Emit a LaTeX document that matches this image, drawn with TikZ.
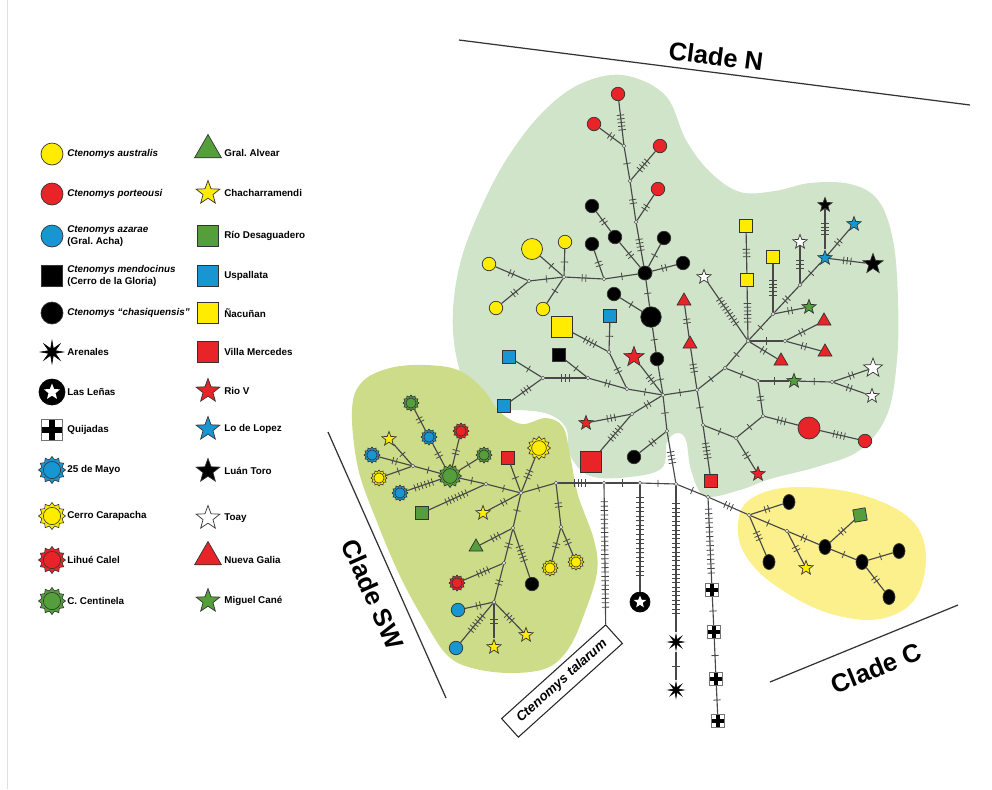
\documentclass[tikz,border=0pt]{standalone}
\usepackage{fontspec}
\setmainfont{Liberation Sans}
\usetikzlibrary{positioning,shapes.geometric,decorations.markings}

\definecolor{cRed}{RGB}{232,36,40}
\definecolor{cYel}{RGB}{255,236,0}
\definecolor{cBlu}{RGB}{24,150,210}
\definecolor{cGrn}{RGB}{84,158,60}
\definecolor{zoneN}{RGB}{207,228,201}
\definecolor{zoneSW}{RGB}{205,220,136}
\definecolor{zoneC}{RGB}{251,240,140}
\definecolor{lnk}{RGB}{72,72,72}

\tikzset{
  edge/.style={draw=lnk,line width=0.65pt},
  tick/.style={draw=lnk,line width=0.45pt},
  mut/.style={postaction={decorate,decoration={markings,mark=at position 0.5 with {\foreach \k in {1,...,#1} {\draw[tick] ({(\k-(#1+1)/2)*2.1pt},-2.1pt) -- ({(\k-(#1+1)/2)*2.1pt},2.1pt);}}}}},
  chain/.style={postaction={decorate,decoration={markings,mark=between positions 0.12 and 0.88 step #1 with {\draw[tick] (0pt,-2.1pt) -- (0pt,2.1pt);}}}},
  mv/.style={circle,draw=lnk,fill=white,line width=0.35pt,inner sep=0pt,minimum size=0.07cm},
  sp/.style={circle,draw=black!80,line width=0.4pt,fill=#1,inner sep=0pt,minimum size=0.27cm},
  ell/.style={ellipse,draw=black!80,line width=0.4pt,fill=#1,inner sep=0pt,minimum width=0.24cm,minimum height=0.3cm},
  sq/.style={rectangle,draw=black!80,line width=0.4pt,fill=#1,inner sep=0pt,minimum size=0.25cm},
  st/.style={star,star points=5,star point ratio=2.4,draw=black!80,line width=0.4pt,fill=#1,inner sep=0pt,minimum size=0.3cm},
  tri/.style={regular polygon,regular polygon sides=3,draw=black!80,line width=0.4pt,fill=#1,inner sep=0pt,minimum size=0.32cm},
  sun/.style 2 args={star,star points=12,star point ratio=1.3,draw=black!80,line width=0.35pt,fill=#1,inner sep=0pt,minimum size=#2,path picture={\draw[fill=#1,line width=0.35pt] (path picture bounding box.center) circle (0.32*#2);}},
  lenas/.style 2 args={circle,fill=black,draw=black,inner sep=0pt,minimum size=#1,path picture={\node[star,star points=5,star point ratio=2.3,fill=white,inner sep=0pt,minimum size=#2] at (path picture bounding box.center) {};}},
  quij/.style 2 args={rectangle,draw=black!55,fill=white,line width=0.4pt,inner sep=0pt,minimum size=#1,path picture={\draw[black,line width=#2] (path picture bounding box.north) -- (path picture bounding box.south) (path picture bounding box.west) -- (path picture bounding box.east);}},
  aren/.style={star,star points=8,star point ratio=3.2,fill=black,draw=black,line width=0.3pt,inner sep=0pt,minimum size=#1},
  key/.style={anchor=west,font=\fontsize{5.6}{6.4}\selectfont\bfseries\frenchspacing,inner sep=0pt,align=left},
  keyit/.style={key,font=\fontsize{5.6}{6.4}\selectfont\bfseries\itshape},
  clade/.style={font=\fontsize{14.5}{16}\selectfont\bfseries,inner sep=0pt},
  cline/.style={draw=black!80,line width=0.7pt},
  talbox/.style={draw=black!85,line width=0.6pt,fill=white,rotate=42,minimum width=2.8cm,minimum height=0.5cm,inner sep=1pt,font=\fontsize{7.6}{8}\selectfont\bfseries\itshape}
}
\newcommand{\mlink}[3]{\draw[edge,mut=#3] (#1) -- (#2);}

\begin{document}
\begin{tikzpicture}[x=0.02cm,y=-0.02cm]
  \useasboundingbox (0,0) rectangle (992,789);
  \draw[black!12] (7,0) -- (7,789);

  \fill[zoneN] plot[smooth cycle,tension=0.6] coordinates {(622,75) (665,95) (686,140) (710,172) (740,192) (775,191) (810,183) (850,184) (878,200) (893,240) (898,300) (897,360) (887,415) (860,450) (820,466) (770,479) (740,490) (705,496) (691,470) (686,440) (677,433) (667,442) (662,468) (630,477) (590,476) (570,455) (566,428) (548,414) (515,410) (490,414) (470,398) (456,355) (453,310) (461,260) (480,210) (506,160) (540,115) (578,85)};
  \fill[zoneSW] plot[smooth cycle,tension=0.6] coordinates {(352,410) (362,382) (390,368) (425,365) (458,370) (482,388) (500,412) (522,424) (546,418) (563,427) (570,455) (578,495) (594,540) (597,572) (585,612) (569,648) (547,668) (510,673) (472,668) (447,655) (425,622) (400,576) (377,522) (358,468)};
  \fill[zoneC] plot[smooth cycle,tension=0.6] coordinates {(742,508) (765,492) (800,487) (850,492) (893,507) (918,528) (926,558) (919,592) (900,612) (868,620) (825,612) (785,592) (755,568) (739,540)};

  \draw[cline] (459,40) -- (970,105);
  \node[clade,rotate=-7.2] (cN) at (716,56) {Clade N};
  \draw[cline] (328,432) -- (446,698);
  \node[clade,rotate=-66] (cSW) at (373,594) {Clade SW};
  \draw[cline] (770,682) -- (958,605);
  \node[clade,rotate=22] (cC) at (876,668) {Clade C};

  \node[sp=cYel,minimum size=0.44cm] (k1) at (52,154) {};
  \node[keyit] (k1t) at (67,154) {Ctenomys australis};
  \node[sp=cRed,minimum size=0.44cm] (k2) at (52,194) {};
  \node[keyit] (k2t) at (67,194) {Ctenomys porteousi};
  \node[sp=cBlu,minimum size=0.44cm] (k3) at (52,236) {};
  \node[key] (k3t) at (67,236) {{\itshape Ctenomys azarae}\\(Gral. Acha)};
  \node[sq=black,minimum size=0.42cm] (k4) at (52,276) {};
  \node[key] (k4t) at (67,276) {{\itshape Ctenomys mendocinus}\\(Cerro de la Gloria)};
  \node[sp=black,minimum size=0.44cm] (k5) at (52,313) {};
  \node[keyit] (k5t) at (67,313) {Ctenomys “chasiquensis”};
  \node[aren=0.46cm] (k6) at (52,352) {};
  \node[key] (k6t) at (67,352) {Arenales};
  \node[lenas={0.52cm}{0.34cm}] (k7) at (52,392) {};
  \node[key] (k7t) at (67,392) {Las Leñas};
  \node[quij={0.42cm}{3.4pt}] (k8) at (52,430) {};
  \node[key] (k8t) at (67,430) {Quijadas};
  \node[sun={cBlu}{0.54cm}] (k9) at (52,470) {};
  \node[key] (k9t) at (67,470) {25 de Mayo};
  \node[sun={cYel}{0.54cm}] (k10) at (52,516) {};
  \node[key] (k10t) at (67,516) {Cerro Carapacha};
  \node[sun={cRed}{0.54cm}] (k11) at (52,560) {};
  \node[key] (k11t) at (67,560) {Lihué Calel};
  \node[sun={cGrn}{0.54cm}] (k12) at (52,601) {};
  \node[key] (k12t) at (67,601) {C. Centinela};

  \node[tri=cGrn,minimum size=0.62cm] (r1) at (208,150) {};
  \node[key] (r1t) at (224,153) {Gral. Alvear};
  \node[st=cYel,minimum size=0.5cm] (r2) at (208,193) {};
  \node[key] (r2t) at (224,193) {Chacharramendi};
  \node[sq=cGrn,minimum size=0.42cm] (r3) at (208,236) {};
  \node[key] (r3t) at (224,236) {Río Desaguadero};
  \node[sq=cBlu,minimum size=0.42cm] (r4) at (208,276) {};
  \node[key] (r4t) at (224,276) {Uspallata};
  \node[sq=cYel,minimum size=0.42cm] (r5) at (208,313) {};
  \node[key] (r5t) at (224,313) {Ñacuñan};
  \node[sq=cRed,minimum size=0.42cm] (r6) at (208,352) {};
  \node[key] (r6t) at (224,352) {Villa Mercedes};
  \node[st=cRed,minimum size=0.5cm] (r7) at (208,391) {};
  \node[key] (r7t) at (224,391) {Rio V};
  \node[st=cBlu,minimum size=0.5cm] (r8) at (208,429) {};
  \node[key] (r8t) at (224,429) {Lo de Lopez};
  \node[st=black,minimum size=0.5cm] (r9) at (208,471) {};
  \node[key] (r9t) at (224,471) {Luán Toro};
  \node[st=white,minimum size=0.5cm] (r10) at (208,518) {};
  \node[key] (r10t) at (224,518) {Toay};
  \node[tri=cRed,minimum size=0.62cm] (r11) at (208,557) {};
  \node[key] (r11t) at (224,560) {Nueva Galia};
  \node[st=cGrn,minimum size=0.5cm] (r12) at (208,601) {};
  \node[key] (r12t) at (224,601) {Miguel Cané};

  \node[sp=cRed] (n1) at (618,94) {};
  \node[sp=cRed] (n2) at (594,124) {};
  \node[mv] (m1) at (624,146) {};
  \node[sp=cRed] (n3) at (660,146) {};
  \node[mv] (m2) at (630,181) {};
  \node[sp=cRed] (n4) at (658,189) {};
  \node[mv] (m3) at (636,222) {};
  \node[sp=black,minimum size=0.28cm] (h1) at (645,273) {};
  \node[sp=black] (b1) at (592,206) {};
  \node[sp=black] (b2) at (615,237) {};
  \node[sp=black] (b3) at (664,238) {};
  \node[sp=black] (b4) at (683,263) {};
  \node[mv] (m4) at (604,279) {};
  \node[sp=black] (b5) at (592,244) {};
  \node[mv] (m5) at (564,277) {};
  \node[sp=cYel] (y1) at (565,242) {};
  \node[sp=cYel,minimum size=0.42cm] (y2) at (532,249) {};
  \node[mv] (m6) at (529,281) {};
  \node[sp=cYel] (y3) at (489,264) {};
  \node[sp=cYel] (y4) at (496,308) {};
  \node[sp=cYel] (y5) at (543,309) {};
  \node[sp=black] (b6) at (614,294) {};
  \node[sp=black,minimum size=0.41cm] (b7) at (651,317) {};
  \node[sp=black] (b8) at (657,359) {};
  \node[mv] (c0) at (663,395) {};
  \node[sq=cYel,minimum size=0.41cm] (s1) at (562,327) {};
  \node[sq=cBlu] (s2) at (610,316) {};
  \node[mv] (m7) at (609,352) {};
  \node[mv] (m8) at (627,389) {};
  \node[sq=black] (s3) at (559,355) {};
  \node[mv] (m9) at (588,378) {};
  \node[sq=cBlu] (s4) at (509,357) {};
  \node[mv] (m10) at (543,378) {};
  \node[sq=cBlu] (s5) at (504,406) {};
  \node[st=cRed,minimum size=0.42cm] (t0) at (634,357) {};
  \node[mv] (m11) at (667,431) {};
  \node[sp=black] (b9) at (634,457) {};
  \node[mv] (m12) at (632,414) {};
  \node[st=cRed] (r0) at (586,423) {};
  \node[sq=cRed,minimum size=0.42cm] (s6) at (591,462) {};
  \node[mv] (m13) at (697,390) {};
  \node[tri=cRed] (t1) at (690,344) {};
  \node[tri=cRed] (t2) at (684,301) {};
  \node[mv] (m14) at (703,425) {};
  \node[sq=cRed] (s7) at (711,481) {};
  \node[mv] (m15) at (736,438) {};
  \node[st=cRed] (r3s) at (758,474) {};
  \node[mv] (m16) at (763,416) {};
  \node[sp=cRed,minimum size=0.44cm] (c1) at (809,428) {};
  \node[sp=cRed] (c2) at (865,441) {};
  \node[mv] (m17) at (725,368) {};
  \node[mv] (m18) at (758,381) {};
  \node[st=cGrn] (g1) at (794,381) {};
  \node[mv] (m19) at (832,382) {};
  \node[st=white,minimum size=0.4cm] (w1) at (873,368) {};
  \node[st=white] (w2) at (872,396) {};
  \node[mv] (h2) at (748,341) {};
  \node[st=white] (w3) at (704,277) {};
  \node[sq=cYel] (s8) at (747,280) {};
  \node[sq=cYel] (s9) at (746,226) {};
  \node[tri=cRed] (t3) at (781,361) {};
  \node[mv] (m20) at (785,341) {};
  \node[tri=cRed] (t4) at (824,321) {};
  \node[tri=cRed] (t5) at (825,352) {};
  \node[mv] (m21) at (773,314) {};
  \node[sq=cYel] (s10) at (773,257) {};
  \node[st=cGrn] (g2) at (809,307) {};
  \node[mv] (m22) at (800,285) {};
  \node[st=white] (w4) at (800,242) {};
  \node[st=cBlu] (u1) at (825,258) {};
  \node[st=black] (x1) at (825,205) {};
  \node[st=cBlu] (u2) at (854,224) {};
  \node[st=black,minimum size=0.42cm] (x2) at (873,264) {};

  \node[mv] (jn) at (676,484) {};
  \node[mv] (j1) at (604,483) {};
  \node[mv] (j2) at (640,483) {};
  \node[mv] (j0) at (556,483) {};
  \node[mv] (m23) at (708,497) {};
  \node[lenas={0.4cm}{0.26cm}] (ly) at (640,602) {};
  \node[aren=0.32cm] (a1) at (676,642) {};
  \node[aren=0.32cm] (a2) at (676,690) {};
  \node[quij={0.26cm}{1.9pt}] (q1) at (712,590) {};
  \node[quij={0.26cm}{1.9pt}] (q2) at (714,632) {};
  \node[quij={0.26cm}{1.9pt}] (q3) at (716,679) {};
  \node[quij={0.26cm}{1.9pt}] (q4) at (718,721) {};
  \node[talbox] (tal) at (562,681) {Ctenomys talarum};

  \node[mv] (yc) at (749,515) {};
  \node[ell=black] (e1) at (789,502) {};
  \node[ell=black] (e2) at (769,562) {};
  \node[mv] (m24) at (787,531) {};
  \node[st=cYel] (e3) at (806,568) {};
  \node[ell=black] (e4) at (825,547) {};
  \node[sq=cGrn,rotate=10] (e5) at (860,515) {};
  \node[ell=black] (e6) at (862,562) {};
  \node[ell=black] (e7) at (899,551) {};
  \node[ell=black] (e8) at (889,597) {};

  \node[mv] (w0) at (521,493) {};
  \node[sq=cRed] (d1) at (508,458) {};
  \node[sun={cYel}{0.46cm}] (d2) at (539,448) {};
  \node[mv] (m25) at (486,484) {};
  \node[st=cYel] (d3) at (483,513) {};
  \node[mv] (m26) at (513,528) {};
  \node[sq=cGrn] (d4) at (422,513) {};
  \node[sun={cGrn}{0.46cm}] (gs) at (450,476) {};
  \node[mv] (m27) at (413,466) {};
  \node[sun={cBlu}{0.32cm}] (d5) at (372,455) {};
  \node[sun={cYel}{0.32cm}] (d6) at (379,478) {};
  \node[st=cYel] (d7) at (389,439) {};
  \node[sun={cBlu}{0.32cm}] (d8) at (400,493) {};
  \node[sun={cBlu}{0.32cm}] (d9) at (429,437) {};
  \node[sun={cGrn}{0.32cm}] (d10) at (411,403) {};
  \node[sun={cRed}{0.32cm}] (d11) at (461,431) {};
  \node[sun={cGrn}{0.32cm}] (d12) at (484,455) {};
  \node[mv] (m28) at (561,527) {};
  \node[sun={cYel}{0.32cm}] (d13) at (550,568) {};
  \node[sun={cYel}{0.32cm}] (d14) at (576,562) {};
  \node[tri=cGrn] (d15) at (476,547) {};
  \node[mv] (m29) at (504,563) {};
  \node[sp=black] (d16) at (532,584) {};
  \node[sun={cRed}{0.32cm}] (d17) at (457,583) {};
  \node[mv] (m30) at (494,602) {};
  \node[sp=cBlu] (d18) at (458,610) {};
  \node[sp=cBlu] (d19) at (456,648) {};
  \node[st=cYel] (d20) at (494,647) {};
  \node[st=cYel] (d21) at (526,635) {};

  \mlink{n1}{m1}{5} \mlink{n2}{m1}{2} \mlink{m1}{m2}{1} \mlink{m2}{n3}{4}
  \mlink{m2}{m3}{2} \mlink{m3}{n4}{2} \mlink{m3}{h1}{4}
  \mlink{h1}{b2}{2} \mlink{b2}{b1}{2} \mlink{h1}{b3}{1} \mlink{h1}{b4}{2}
  \mlink{h1}{m4}{1} \mlink{m4}{b5}{2} \mlink{m4}{m5}{2} \mlink{m5}{y1}{1}
  \mlink{m5}{y2}{1} \mlink{m5}{m6}{1} \mlink{m6}{y3}{2} \mlink{m6}{y4}{2} \mlink{m5}{y5}{1}
  \mlink{h1}{b7}{1} \mlink{b6}{b7}{1} \mlink{b7}{b8}{1} \mlink{b8}{c0}{1}
  \mlink{s1}{m7}{4} \mlink{s2}{m7}{1} \mlink{m7}{m8}{2} \mlink{s3}{m9}{1}
  \mlink{s4}{m10}{1} \mlink{s5}{m10}{3} \mlink{m10}{m9}{3} \mlink{m9}{m8}{2} \mlink{m8}{c0}{1}
  \mlink{t0}{c0}{3} \mlink{c0}{m11}{1} \mlink{m11}{b9}{2} \mlink{c0}{m12}{2}
  \mlink{m12}{r0}{3} \mlink{m12}{s6}{5}
  \mlink{c0}{m13}{1} \mlink{m13}{t1}{3} \mlink{t1}{t2}{2} \mlink{m13}{m14}{1}
  \mlink{m14}{s7}{5} \mlink{m14}{m15}{1} \mlink{m15}{r3s}{2} \mlink{m15}{m16}{1}
  \mlink{m16}{c1}{3} \mlink{c1}{c2}{4} \mlink{m16}{m18}{2}
  \mlink{m13}{m17}{1} \mlink{m17}{m18}{1} \mlink{m18}{g1}{1} \mlink{g1}{m19}{1}
  \mlink{m19}{w1}{2} \mlink{m19}{w2}{2}
  \mlink{m17}{h2}{1} \mlink{h2}{w3}{9} \mlink{h2}{s8}{6} \mlink{s8}{s9}{3}
  \mlink{h2}{t3}{2} \mlink{h2}{m20}{1} \mlink{m20}{t4}{2} \mlink{m20}{t5}{2}
  \mlink{h2}{m21}{1} \mlink{m21}{s10}{5} \mlink{m21}{g2}{2} \mlink{m21}{m22}{2}
  \mlink{m22}{w4}{3} \mlink{m22}{u1}{1} \mlink{u1}{x1}{4} \mlink{u1}{u2}{2} \mlink{u1}{x2}{3}

  \mlink{m11}{jn}{4} \mlink{jn}{j2}{1} \mlink{j2}{j1}{1} \mlink{j1}{j0}{4}
  \draw[edge,chain=2.5pt] (j1) -- (tal.north east);
  \draw[edge,chain=2.6pt] (j2) -- (ly);
  \draw[edge,chain=2.5pt] (jn) -- (a1);
  \mlink{a1}{a2}{1}
  \mlink{jn}{m23}{1} \mlink{m23}{yc}{3}
  \draw[edge,chain=2.6pt] (m23) -- (q1);
  \mlink{q1}{q2}{1} \mlink{q2}{q3}{1} \mlink{q3}{q4}{1}

  \mlink{yc}{e1}{2} \mlink{yc}{e2}{3} \mlink{yc}{m24}{1} \mlink{m24}{e3}{2}
  \mlink{m24}{e4}{2} \mlink{e4}{e5}{2} \mlink{e4}{e6}{1} \mlink{e6}{e7}{1} \mlink{e6}{e8}{2}

  \mlink{j0}{w0}{1} \mlink{j0}{m28}{2} \mlink{m28}{d13}{2} \mlink{m28}{d14}{2}
  \mlink{w0}{d1}{1} \mlink{w0}{d2}{3} \mlink{w0}{m25}{1} \mlink{w0}{d3}{2} \mlink{w0}{m26}{1}
  \mlink{m25}{d4}{7} \mlink{m25}{gs}{1} \mlink{gs}{m27}{1} \mlink{m27}{d5}{2}
  \mlink{m27}{d6}{1} \mlink{m27}{d7}{1} \mlink{gs}{d8}{6} \mlink{gs}{d9}{2}
  \mlink{d9}{d10}{2} \mlink{gs}{d11}{2} \mlink{gs}{d12}{1}
  \mlink{m26}{d15}{3} \mlink{m26}{m29}{2} \mlink{m26}{d16}{5} \mlink{m29}{d17}{4}
  \mlink{m29}{m30}{2} \mlink{m30}{d18}{2} \mlink{m30}{d19}{6} \mlink{m30}{d20}{2} \mlink{m30}{d21}{3}
\end{tikzpicture}
\end{document}
